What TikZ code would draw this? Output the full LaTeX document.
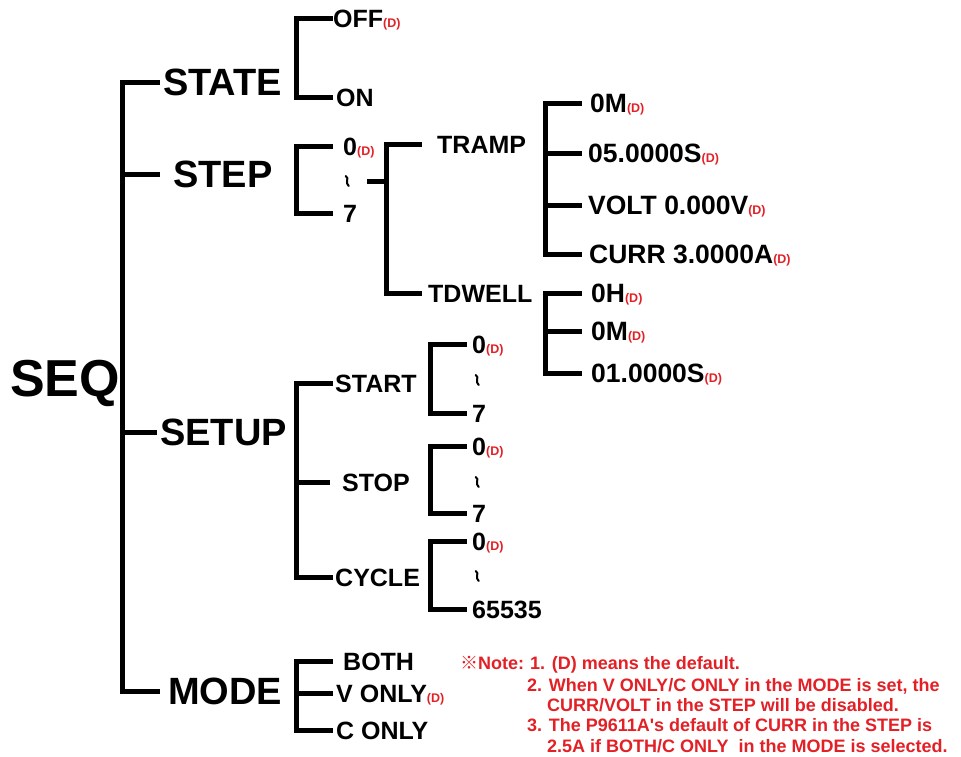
\documentclass[tikz,border=0pt]{standalone}
\usepackage{fontspec}
\setmainfont{Liberation Sans}
\newfontfamily\narrowfont{Liberation Sans}
\newfontfamily\cjkfont{Noto Sans CJK SC}
\usetikzlibrary{calc}
\definecolor{nred}{RGB}{226,32,38}
\newcommand{\dd}{{\fontsize{12.5}{12.5}\selectfont\bfseries\color{nred}(D)}}
\tikzset{
  every node/.style={inner sep=0pt, anchor=west},
  seqf/.style={font=\bfseries\fontsize{52}{52}\selectfont, text height=37pt, text depth=0pt},
  lva/.style={font=\bfseries\fontsize{38}{38}\selectfont, text height=27pt, text depth=0pt},
  lvb/.style={font=\bfseries\fontsize{25}{25}\selectfont, text height=18pt, text depth=0pt},
  lvc/.style={font=\bfseries\fontsize{26.5}{26.5}\selectfont, text height=19pt, text depth=0pt},
  wg/.style={minimum width=6pt, minimum height=11pt},
  wgline/.style={line width=2pt, line cap=round},
  br/.style={line width=5pt, line join=miter},
  note/.style={font=\narrowfont\bfseries\fontsize{18}{18}\selectfont, text=nred, anchor=base west},
}
\begin{document}
\begin{tikzpicture}[x=1pt,y=-1pt]
\useasboundingbox (0,0) rectangle (961,756);
% level 0/1
\node[seqf] (seq) at (10,378) {SEQ};
\node[lva] (state) at (163,82) {STATE};
\node[lva] (step) at (173,174) {STEP};
\node[lva] (setup) at (160,432) {SETUP};
\node[lva] (mode) at (168,691) {MODE};
\coordinate (m) at (122,0);
\draw[br] ($(state.west)+(-3,0)$) -- (state.west -| m) -- (mode.west -| m) -- ($(mode.west)+(-8,0)$);
\draw[br] (step.west -| m) -- ($(step.west)+(-13,0)$);
\draw[br] (setup.west -| m) -- ($(setup.west)+(-3,0)$);
% STATE
\coordinate (b1) at (296,0);
\node[lvb] (off) at (333,18) {OFF\dd};
\node[lvb] (on) at (336,97) {ON};
\draw[br] (off.west) -- (off.west -| b1) -- (on.west -| b1) -- ($(on.west)+(-3,0)$);
% STEP
\node[lvb] (s0) at (343,146) {0\dd};
\node[wg] (sw) at (344,181) {};
\node[lvb] (s7) at (343,213) {7};
\draw[br] ($(s0.west)+(-10,0)$) -- (s0.west -| b1) -- (s7.west -| b1) -- ($(s7.west)+(-10,0)$);
\coordinate (b2) at (386,0);
\node[lvb] (tramp) at (437,144) {TRAMP};
\node[lvb] (tdwell) at (428,293) {TDWELL};
\draw[br] ($(sw.east)+(17,0)$) -- (sw.east -| b2);
\draw[br] ($(tramp.west)+(-15,0)$) -- (tramp.west -| b2) -- (tdwell.west -| b2) -- ($(tdwell.west)+(-6,0)$);
% TRAMP values
\coordinate (b3) at (545,0);
\node[lvc] (t1) at (590,103) {0M\dd};
\node[lvc] (t2) at (588,153) {05.0000S\dd};
\node[lvc] (t3) at (588,205) {VOLT 0.000V\dd};
\node[lvc] (t4) at (589,254) {CURR 3.0000A\dd};
\draw[br] ($(t1.west)+(-8,0)$) -- (t1.west -| b3) -- (t4.west -| b3) -- ($(t4.west)+(-7,0)$);
\draw[br] (t2.west -| b3) -- ($(t2.west)+(-6,0)$);
\draw[br] (t3.west -| b3) -- ($(t3.west)+(-6,0)$);
% TDWELL values
\node[lvc] (d1) at (591,293) {0H\dd};
\node[lvc] (d2) at (591,331) {0M\dd};
\node[lvc] (d3) at (591,373) {01.0000S\dd};
\draw[br] ($(d1.west)+(-9,0)$) -- (d1.west -| b3) -- (d3.west -| b3) -- ($(d3.west)+(-9,0)$);
\draw[br] (d2.west -| b3) -- ($(d2.west)+(-9,0)$);
% SETUP
\node[lvb] (start) at (335,383) {START};
\node[lvb] (stop) at (342,482) {STOP};
\node[lvb] (cycle) at (335,577) {CYCLE};
\draw[br] ($(start.west)+(-2,0)$) -- (start.west -| b1) -- (cycle.west -| b1) -- ($(cycle.west)+(-2,0)$);
\draw[br] (stop.west -| b1) -- ($(stop.west)+(-12,0)$);
\coordinate (b4) at (430,0);
\node[lvb] (a0) at (472,344) {0\dd};
\node[wg] (aw) at (474,380) {};
\node[lvb] (a7) at (472,413) {7};
\draw[br] ($(a0.west)+(-5,0)$) -- (a0.west -| b4) -- (a7.west -| b4) -- ($(a7.west)+(-5,0)$);
\node[lvb] (p0) at (472,446) {0\dd};
\node[wg] (pw) at (474,482) {};
\node[lvb] (p7) at (472,513) {7};
\draw[br] ($(p0.west)+(-5,0)$) -- (p0.west -| b4) -- (p7.west -| b4) -- ($(p7.west)+(-5,0)$);
\node[lvb] (c0) at (472,541) {0\dd};
\node[wg] (cw) at (474,576) {};
\node[lvb] (c7) at (472,609) {65535};
\draw[br] ($(c0.west)+(-5,0)$) -- (c0.west -| b4) -- (c7.west -| b4) -- ($(c7.west)+(-5,0)$);
% wiggles (vertical tildes)
\foreach \w in {sw,aw,pw,cw}{
  \draw[wgline] ($(\w.center)+(-1.5,-5)$) .. controls ($(\w.center)+(2.5,-3)$) and ($(\w.center)+(-2.5,2)$) .. ($(\w.center)+(1.5,5)$);
}
% MODE
\node[lvb] (both) at (343,661) {BOTH};
\node[lvb] (vonly) at (336,693) {V ONLY\dd};
\node[lvb] (conly) at (336,730) {C ONLY};
\draw[br] ($(both.west)+(-10,0)$) -- (both.west -| b1) -- (conly.west -| b1) -- ($(conly.west)+(-3,0)$);
\draw[br] (vonly.west -| b1) -- ($(vonly.west)+(-3,0)$);
% Note
\node[note] (n0) at (460,669) {{\cjkfont ※}Note:};
\node[note] (n1) at (530,669) {1. (D) means the default.};
\node[note] (n2) at (527,691) {2. When V ONLY/C ONLY in the MODE is set, the};
\node[note] (n3) at (547,711) {CURR/VOLT in the STEP will be disabled.};
\node[note] (n4) at (527,731) {3. The P9611A's default of CURR in the STEP is};
\node[note] (n5) at (547,752) {2.5A if BOTH/C ONLY\ \ in the MODE is selected.};
\end{tikzpicture}
\end{document}
